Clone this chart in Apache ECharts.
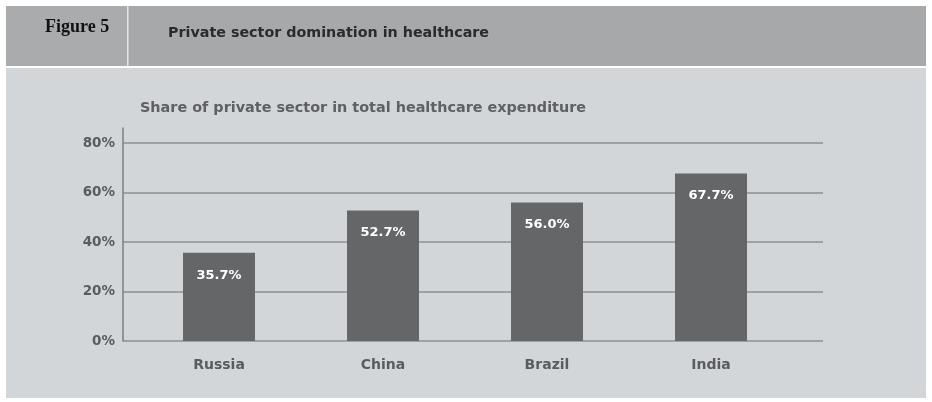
<!DOCTYPE html>
<html><head><meta charset="utf-8">
<script src="https://cdn.jsdelivr.net/npm/echarts@6/dist/echarts.min.js"></script>
<style>html,body{margin:0;padding:0;background:#fff}#c{width:932px;height:402px}</style>
</head><body><div id="c"></div>
<script>
const categories = ['Russia', 'China', 'Brazil', 'India'];
const privateShare = [35.7, 52.7, 56.0, 67.7];
const yTicks = [0, 20, 40, 60, 80];

const chart = echarts.init(document.getElementById('c'));
const font = 'DejaVu Sans';
chart.setOption({
  backgroundColor: '#ffffff',
  animation: false,
  graphic: [
    { type: 'rect', shape: { x: 6, y: 6, width: 920, height: 60 }, style: { fill: '#a7a8aa' }, z: -10 },
    { type: 'rect', shape: { x: 6, y: 6, width: 121, height: 60 }, style: { fill: '#aaabad' }, z: -9 },
    { type: 'rect', shape: { x: 127, y: 6, width: 1.5, height: 60 }, style: { fill: '#e4e5e6' }, z: -8 },
    { type: 'rect', shape: { x: 6, y: 68, width: 920, height: 330 }, style: { fill: '#d3d6d9' }, z: -10 },
    { type: 'text', left: 45, top: 18, style: { text: 'Figure 5', font: 'bold 18px "Liberation Serif"', fill: '#111' } },
    { type: 'text', left: 168, top: 26, style: { text: 'Private sector domination in healthcare', font: 'bold 14.3px "' + font + '"', fill: '#2a2b2d' } },
    { type: 'text', left: 140, top: 101, style: { text: 'Share of private sector in total healthcare expenditure', font: 'bold 14.4px "' + font + '"', fill: '#5e6062' } }
  ],
  grid: [
    { left: 137, top: 143, width: 656, bottom: 61 },
    { left: 123, top: 143, width: 700, bottom: 61 },
    { left: 123, top: 128, width: 700, bottom: 61 }
  ],
  xAxis: [
    { type: 'category', gridIndex: 0, data: categories,
      axisLine: { show: false }, axisTick: { show: false },
      axisLabel: { margin: 17, color: '#5a5c5e', fontFamily: font, fontWeight: 'bold', fontSize: 14 } },
    { type: 'value', gridIndex: 1, show: false, min: 0, max: 1 },
    { type: 'value', gridIndex: 2, show: false, min: 0, max: 1 }
  ],
  yAxis: [
    { type: 'value', gridIndex: 0, min: yTicks[0], max: yTicks[yTicks.length - 1], interval: 20, show: false },
    { type: 'value', gridIndex: 1, min: yTicks[0], max: yTicks[yTicks.length - 1], interval: 20,
      axisLine: { show: false }, axisTick: { show: false },
      splitLine: { show: true, lineStyle: { color: '#8d8f91', width: 1.5 } },
      axisLabel: { margin: 8, formatter: '{value}%', color: '#5a5c5e', fontFamily: font, fontWeight: 'bold', fontSize: 13.5 } },
    { type: 'value', gridIndex: 2, min: 0, max: 1,
      axisLine: { show: true, lineStyle: { color: '#7d7f81', width: 1.5 } },
      axisTick: { show: false }, axisLabel: { show: false }, splitLine: { show: false } }
  ],
  series: [{
    type: 'bar', xAxisIndex: 0, yAxisIndex: 0, data: privateShare,
    barWidth: 72, z: 5,
    itemStyle: { color: '#646668' },
    label: { show: true, position: 'insideTop', distance: 16, formatter: p => p.value.toFixed(1) + '%',
      color: '#ffffff', fontFamily: font, fontWeight: 'bold', fontSize: 13 }
  }]
});
</script></body></html>
